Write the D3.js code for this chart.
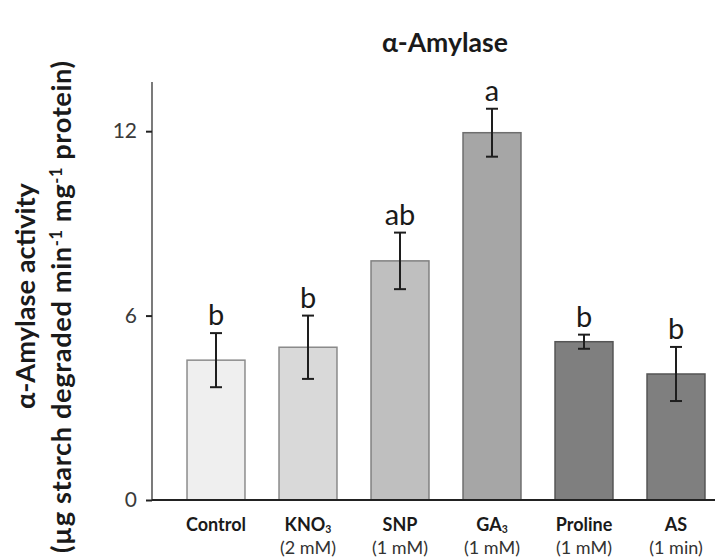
<!DOCTYPE html>
<html>
<head>
<meta charset="utf-8">
<script src="https://cdn.jsdelivr.net/npm/d3@7"></script>
<style>
  html, body { margin: 0; padding: 0; background: #fff; }
  svg { display: block; font-family: Lato, "Open Sans", sans-serif; }
</style>
</head>
<body>
<svg id="chart" width="715" height="558"></svg>
<script>
// ---- data ----
const categories = ["Control", "KNO3", "SNP", "GA3", "Proline", "AS"];
const nameMain = ["Control", "KNO", "SNP", "GA", "Proline", "AS"];
const nameSub = ["", "3", "", "3", "", ""];
const concentrations = ["", "(2 mM)", "(1 mM)", "(1 mM)", "(1 mM)", "(1 min)"];
const activity = [4.55, 4.97, 7.78, 11.95, 5.15, 4.1];
const errors = [0.88, 1.03, 0.92, 0.78, 0.23, 0.88];
const letters = ["b", "b", "ab", "a", "b", "b"];
const yTicks = [0, 6, 12];
const barFills = ["#efefef", "#d9d9d9", "#bfbfbf", "#a6a6a6", "#7f7f7f", "#7f7f7f"];
const barStrokes = ["#8c8c8c", "#8a8a8a", "#808080", "#6e6e6e", "#555555", "#555555"];

const svg = d3.select("#chart");

// scale a text's font size so that its rendered width matches a target width
function fit(sel, target) {
  const len = sel.node().getComputedTextLength();
  const fs = parseFloat(sel.attr("font-size"));
  if (len > 0) sel.attr("font-size", (fs * target / len).toFixed(2));
  return sel;
}

const x = d3.scaleBand()
  .domain(categories)
  .range([170, 722])
  .paddingInner(0.37)
  .paddingOuter(0.185);

const y = d3.scaleLinear()
  .domain([0, 13.6])
  .range([500, 82]);

// title
const title = svg.append("text")
  .attr("x", 445).attr("y", 52)
  .attr("text-anchor", "middle")
  .attr("font-size", 20).attr("font-weight", "bold")
  .attr("fill", "#1a1a1a")
  .text("α-Amylase");
fit(title, 126);

// bars
const data = categories.map((c, i) => ({ c, v: activity[i], e: errors[i], l: letters[i], i }));

svg.append("g").selectAll("rect")
  .data(data).join("rect")
  .attr("x", d => x(d.c))
  .attr("y", d => y(d.v))
  .attr("width", x.bandwidth())
  .attr("height", d => y(0) - y(d.v))
  .attr("fill", d => barFills[d.i])
  .attr("stroke", d => barStrokes[d.i])
  .attr("stroke-width", 1.5);

// error bars
const eb = svg.append("g").attr("stroke", "#1e1e1e").attr("stroke-width", 2);
data.forEach(d => {
  const cx = x(d.c) + x.bandwidth() / 2;
  eb.append("line").attr("x1", cx).attr("x2", cx).attr("y1", y(d.v + d.e)).attr("y2", y(d.v - d.e));
  eb.append("line").attr("x1", cx - 6).attr("x2", cx + 6).attr("y1", y(d.v + d.e)).attr("y2", y(d.v + d.e));
  eb.append("line").attr("x1", cx - 6).attr("x2", cx + 6).attr("y1", y(d.v - d.e)).attr("y2", y(d.v - d.e));
});

// letters
svg.append("g").selectAll("text")
  .data(data).join("text")
  .attr("x", d => x(d.c) + x.bandwidth() / 2)
  .attr("y", d => y(d.v + d.e) - 8)
  .attr("text-anchor", "middle")
  .attr("font-size", 29)
  .attr("fill", "#1a1a1a")
  .text(d => d.l);

// y axis
const yAxis = d3.axisLeft(y).tickValues(yTicks).tickSize(6).tickPadding(9).tickFormat(d3.format("d"));
const gy = svg.append("g").attr("transform", "translate(152,0)").call(yAxis);
gy.select(".domain").attr("stroke", "#333").attr("stroke-width", 1.3).attr("d", `M0,${y(13.6)}V${y(0)}`);
gy.selectAll(".tick line").attr("stroke", "#222").attr("stroke-width", 2);
gy.selectAll(".tick text").attr("font-size", 21).attr("fill", "#3a3a3a").attr("font-family", "Lato, sans-serif");

// x axis baseline
const xAxis = d3.axisBottom(x).tickSize(0).tickFormat("");
const gx = svg.append("g").attr("transform", `translate(0,${y(0)})`).call(xAxis);
gx.select(".domain").attr("stroke", "#222").attr("stroke-width", 2).attr("d", "M152,0H715");

// x labels
const xl = svg.append("g").attr("fill", "#1a1a1a");
data.forEach(d => {
  const cx = x(d.c) + x.bandwidth() / 2;
  const t = xl.append("text").attr("x", cx).attr("y", 531)
    .attr("text-anchor", "middle").attr("font-size", 18).attr("font-weight", "bold");
  t.append("tspan").text(nameMain[d.i]);
  if (nameSub[d.i]) {
    t.append("tspan").attr("font-size", "0.58em").attr("dy", 2).text(nameSub[d.i]);
  }
  if (concentrations[d.i]) {
    xl.append("text").attr("x", cx).attr("y", 554)
      .attr("text-anchor", "middle").attr("font-size", 18).attr("fill", "#333")
      .text(concentrations[d.i]);
  }
});

// y label
const yl1 = svg.append("text")
  .attr("transform", "translate(35,296) rotate(-90)")
  .attr("text-anchor", "middle")
  .attr("font-size", 24).attr("font-weight", "bold").attr("fill", "#1a1a1a")
  .text("α-Amylase activity");
fit(yl1, 226);
const l2 = svg.append("text")
  .attr("transform", "translate(71,307) rotate(-90)")
  .attr("text-anchor", "middle")
  .attr("font-size", parseFloat(yl1.attr("font-size"))).attr("font-weight", "bold").attr("fill", "#1a1a1a");
l2.append("tspan").text("(µg starch degraded min");
l2.append("tspan").attr("font-size", "0.6em").attr("dy", "-0.55em").text("-1");
l2.append("tspan").attr("dy", "0.33em").text(" mg");
l2.append("tspan").attr("font-size", "0.6em").attr("dy", "-0.55em").text("-1");
l2.append("tspan").attr("dy", "0.33em").text(" protein)");
l2.attr("textLength", 492).attr("lengthAdjust", "spacing");
</script>
</body>
</html>
